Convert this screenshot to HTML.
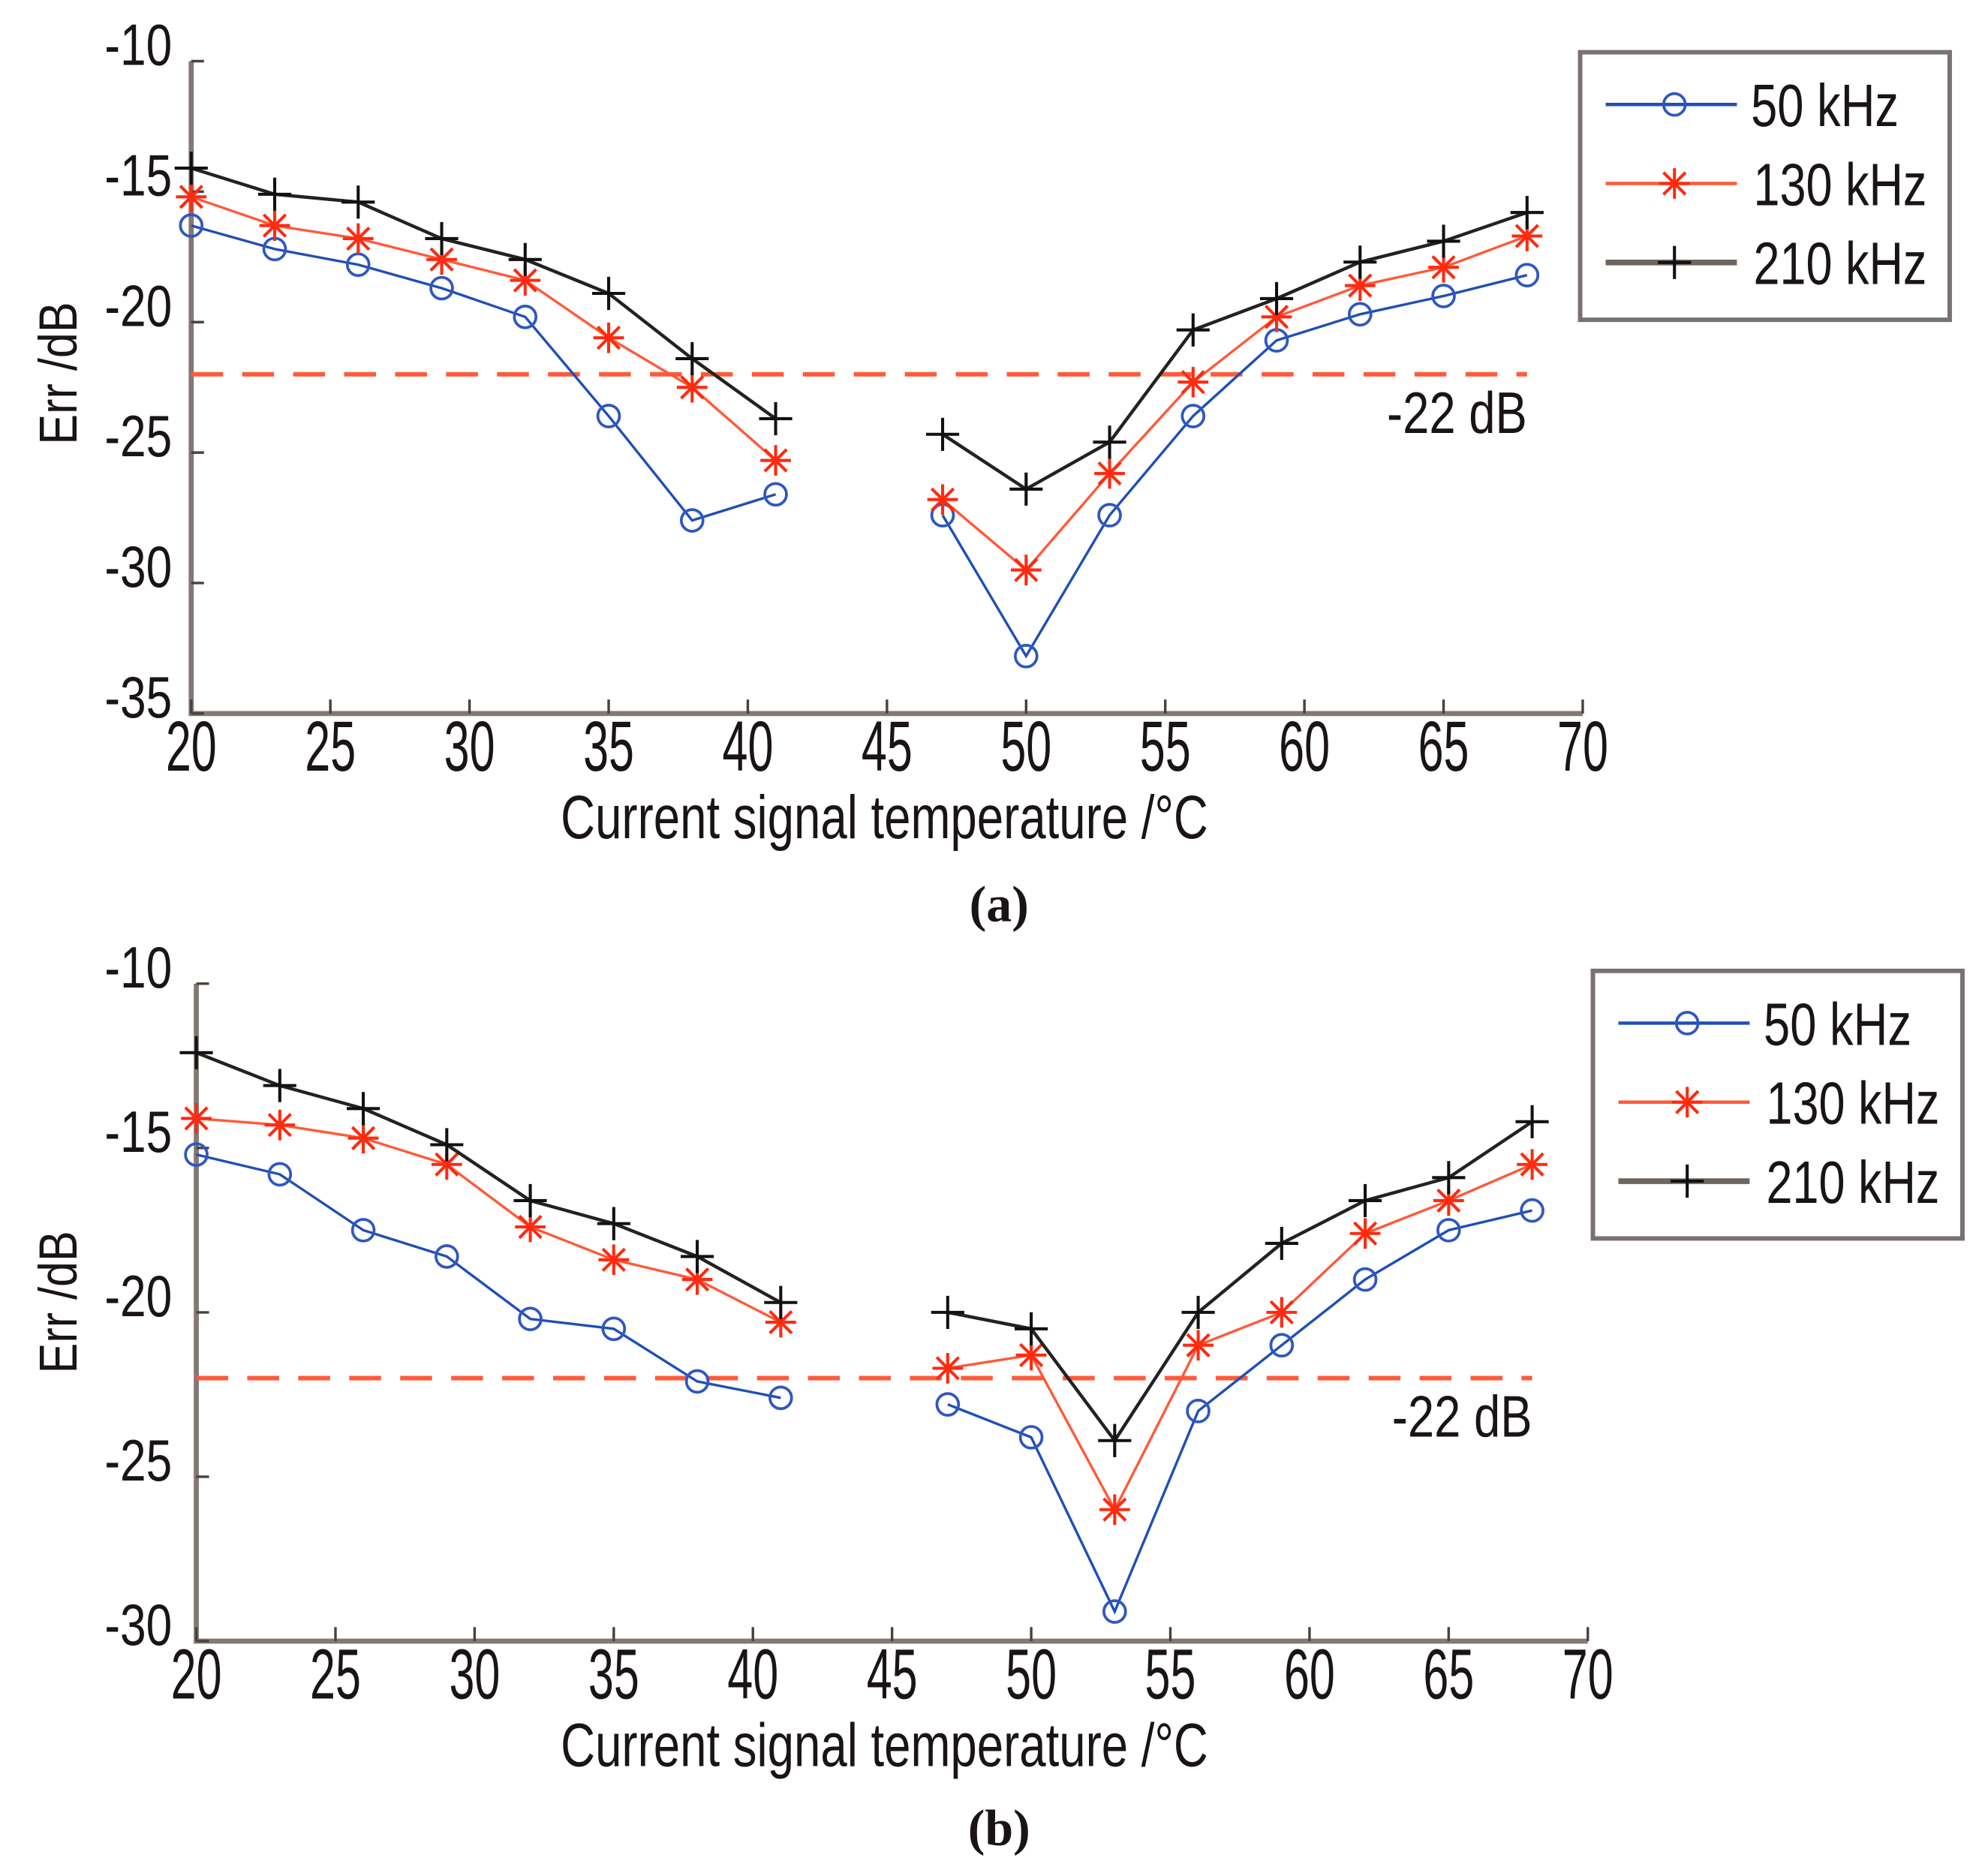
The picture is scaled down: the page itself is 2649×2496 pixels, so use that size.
<!DOCTYPE html>
<html><head><meta charset="utf-8"><style>
html,body{margin:0;padding:0;background:#fff;}
svg{display:block;}
text{font-family:"Liberation Sans",sans-serif;fill:#1a1414;}
</style></head><body>
<svg id="fig" xmlns="http://www.w3.org/2000/svg" width="2649" height="2496" viewBox="0 0 1560 1470">
<rect width="1560" height="1470" fill="#fff"/>
</svg>
<script>
const xValues = [20,23,26,29,32,35,38,41,47,50,53,56,59,62,65,68];
const xTicks = [20,25,30,35,40,45,50,55,60,65,70];
const seriesNames = ["50 kHz","130 kHz","210 kHz"];
const a50 = [-16.3,-17.2,-17.8,-18.7,-19.8,-23.6,-27.6,-26.6, -27.4,-32.8,-27.4,-23.6,-20.7,-19.7,-19.0,-18.2];
const a130 = [-15.2,-16.3,-16.8,-17.6,-18.4,-20.6,-22.5,-25.3, -26.8,-29.5,-25.8,-22.3,-19.8,-18.6,-17.9,-16.7];
const a210 = [-14.1,-15.1,-15.4,-16.8,-17.6,-18.9,-21.4,-23.7, -24.3,-26.4,-24.6,-20.3,-19.1,-17.7,-16.9,-15.8];
const b50 = [-15.2,-15.8,-17.5,-18.3,-20.2,-20.5,-22.1,-22.6, -22.8,-23.8,-29.1,-23.0,-21.0,-19.0,-17.5,-16.9];
const b130 = [-14.1,-14.3,-14.7,-15.5,-17.4,-18.4,-19.0,-20.3, -21.7,-21.3,-26.0,-21.0,-20.0,-17.6,-16.6,-15.5];
const b210 = [-12.1,-13.1,-13.8,-14.9,-16.6,-17.3,-18.3,-19.7, -20.0,-20.5,-23.9,-20.0,-17.9,-16.6,-15.9,-14.2];
const aYTicks = [-10,-15,-20,-25,-30,-35];
const bYTicks = [-10,-15,-20,-25,-30];
const thresholdValue = -22;

const NS="http://www.w3.org/2000/svg";
const svg=document.getElementById('fig');
function mk(tag,attrs,parent){const e=document.createElementNS(NS,tag);for(const k in attrs)e.setAttribute(k,attrs[k]);(parent||svg).appendChild(e);return e;}
function txt(parent,x,y,s,size,anchor,len){const t=mk('text',{x:x,y:y,'font-size':size,'text-anchor':anchor||'start'},parent);if(len){t.setAttribute('textLength',len);t.setAttribute('lengthAdjust','spacingAndGlyphs');}t.textContent=s;return t;}

const lineColors=["#1f4fb5","#ff5a3a","#222"];

function marker(g,kind,x,y){
  if(kind===0){mk('circle',{cx:x,cy:y,r:8.5,fill:'none',stroke:'#2f57c0','stroke-width':2.2},g);}
  else if(kind===1){const r=12;
    mk('path',{d:`M${x-r} ${y}H${x+r}M${x} ${y-r}V${y+r}M${x-r*0.72} ${y-r*0.72}L${x+r*0.72} ${y+r*0.72}M${x-r*0.72} ${y+r*0.72}L${x+r*0.72} ${y-r*0.72}`,stroke:'#ff2a10','stroke-width':2.4,fill:'none'},g);}
  else {const r=13;mk('path',{d:`M${x-r} ${y}H${x+r}M${x} ${y-r}V${y+r}`,stroke:'#111','stroke-width':2.4,fill:'none'},g);}
}

function chart(cfg){
  const g=mk('g',{});
  
  
  const X=v=>cfg.x0+(v-20)/50*(cfg.x1-cfg.x0);
  const Y=v=>cfg.y0+(cfg.ymax-v)/(cfg.ymax-cfg.ymin)*(cfg.y1-cfg.y0);
  const ax=mk('g',{},g);
  
  
  mk('path',{d:`M${cfg.x0} ${cfg.y0}V${cfg.y1}H${cfg.x1}`,stroke:'#847874','stroke-width':4,fill:'none'},ax);
  xTicks.forEach(t=>{
    const tk=mk('line',{x1:X(t),x2:X(t),y1:cfg.y1,y2:cfg.y1-11,stroke:'#4a4040','stroke-width':2},ax);
    
    
    const lb=txt(ax,X(t),cfg.y1+45,String(t),56,'middle',40);
    
    
  });
  cfg.yTicks.forEach(t=>{
    const tk=mk('line',{x1:cfg.x0,x2:cfg.x0+10,y1:Y(t),y2:Y(t),stroke:'#4a4040','stroke-width':2},ax);
    
    
    const lb=txt(ax,135,Y(t)+3,String(t),46,'end',53);
    
    
  });
  const xt=txt(g,694,cfg.y1+98,"Current signal temperature /°C",48,'middle',508);
  
  
  const yt=txt(g,0,0,"Err /dB",42,'middle',112);
  yt.setAttribute('transform',`translate(60 ${cfg.titleY}) rotate(-90)`);
  
  
  const th=mk('line',{x1:cfg.x0,x2:X(68),y1:Y(thresholdValue),y2:Y(thresholdValue),stroke:'#ff5a3a','stroke-width':3.5,'stroke-dasharray':'25 15'},g);
  
  
  const tl=txt(g,X(68),Y(thresholdValue)+46,"-22 dB",46,'end',110);
  
  
  cfg.series.forEach((vals,si)=>{
    const sg=mk('g',{},g);
    
    
    const seg1=[],seg2=[];
    xValues.forEach((xv,i)=>{(xv<45?seg1:seg2).push(X(xv)+','+Y(vals[i]));});
    [seg1,seg2].forEach(s=>{const p=mk('polyline',{points:s.join(' '),fill:'none',stroke:lineColors[si],'stroke-width':si===2?2.6:2},sg);
      
      });
    xValues.forEach((xv,i)=>marker(sg,si,X(xv),Y(vals[i])));
  });
  const lg=mk('g',{},g);
  
  
  mk('rect',{x:cfg.lx,y:cfg.ly,width:290,height:210,fill:'#fff',stroke:'#7a7070','stroke-width':3.5},lg);
  seriesNames.forEach((n,i)=>{
    const e=mk('g',{},lg);
    
    
    const yy=cfg.ly+41+i*62;
    mk('line',{x1:cfg.lx+20,x2:cfg.lx+123,y1:yy,y2:yy,stroke:i===2?'#6e6460':lineColors[i],'stroke-width':i===2?4.5:2.6},e);
    marker(e,i,cfg.lx+74,yy);
    txt(e,cfg.lx+(i===0?134:136),yy+17,n,47,'start',i===0?116:136);
  });
  const cap=mk('text',{x:784,y:cfg.capY,'font-size':40,'text-anchor':'middle','font-weight':'bold',style:'font-family:"Liberation Serif",serif'},g);
  cap.textContent=cfg.cap;
  
  
}
chart({name:'chart-a',x0:150,x1:1242,y0:48,y1:560,ymax:-10,ymin:-35,yTicks:aYTicks,series:[a50,a130,a210],lx:1240,ly:41,cap:'(a)',capY:723,titleY:293});
chart({name:'chart-b',x0:154,x1:1246,y0:772,y1:1288,ymax:-10,ymin:-30,yTicks:bYTicks,series:[b50,b130,b210],lx:1250,ly:762,cap:'(b)',capY:1448,titleY:1022});
</script>
</body></html>
